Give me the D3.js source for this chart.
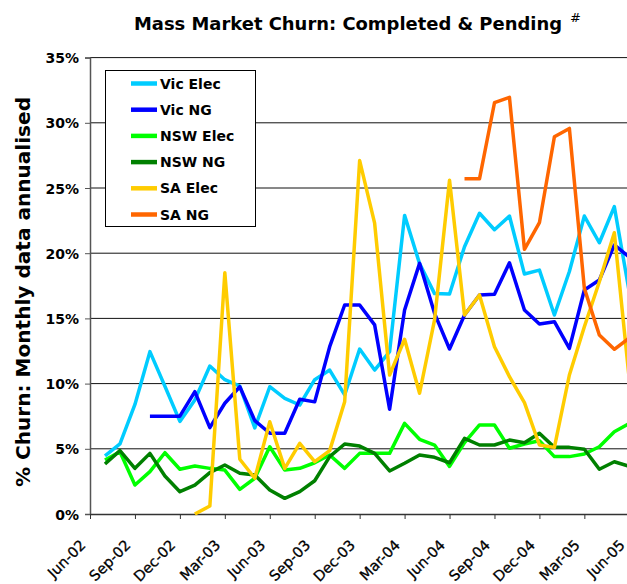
<!DOCTYPE html>
<html>
<head>
<meta charset="utf-8">
<script src="https://cdn.jsdelivr.net/npm/d3@7"></script>
<style>
  body { margin: 0; background: #fff; }
  text { font-family: "DejaVu Sans", Verdana, sans-serif; }
</style>
</head>
<body>
<div id="graph"></div>
<script>
var months = ["Jun-02","Jul-02","Aug-02","Sep-02","Oct-02","Nov-02","Dec-02","Jan-03","Feb-03","Mar-03",
              "Apr-03","May-03","Jun-03","Jul-03","Aug-03","Sep-03","Oct-03","Nov-03","Dec-03","Jan-04",
              "Feb-04","Mar-04","Apr-04","May-04","Jun-04","Jul-04","Aug-04","Sep-04","Oct-04","Nov-04",
              "Dec-04","Jan-05","Feb-05","Mar-05","Apr-05","May-05","Jun-05"];
var tickLabels = ["Jun-02","Sep-02","Dec-02","Mar-03","Jun-03","Sep-03","Dec-03","Mar-04","Jun-04","Sep-04","Dec-04","Mar-05","Jun-05"];
var yTicks = [0, 5, 10, 15, 20, 25, 30, 35];

var seriesNames = ["Vic Elec", "Vic NG", "NSW Elec", "NSW NG", "SA Elec", "SA NG"];
var seriesColors = ["#00ccff", "#0000ff", "#00ff00", "#008000", "#ffcc00", "#ff6600"];

var vicElec = [null,4.45,5.37,8.4,12.45,9.8,7.1,8.75,11.35,10.3,9.8,6.6,9.76,8.87,8.36,10.3,11.04,9.13,12.65,11.04,
               12.45,22.9,19.2,16.9,16.87,20.5,23.06,21.8,22.85,18.4,18.7,15.26,18.6,22.85,20.8,23.57,17.0];
var vicNG = [null,null,null,null,7.5,7.5,7.5,9.38,6.62,8.49,9.76,7.16,6.19,6.19,8.8,8.6,12.83,16.03,16.03,14.5,
             8.03,15.64,19.22,15.39,12.65,15.26,16.8,16.85,19.27,15.64,14.57,14.75,12.7,17.18,17.94,20.63,19.7];
var nswElec = [null,4.14,4.78,2.22,3.25,4.7,3.43,3.68,3.5,3.37,1.89,2.74,5.16,3.37,3.5,3.93,4.52,3.5,4.65,4.65,
               4.65,6.95,5.73,5.29,3.65,5.47,6.83,6.83,5.04,5.37,5.62,4.4,4.4,4.6,5.16,6.31,6.95];
var nswNG = [null,3.83,4.86,3.5,4.65,2.91,1.71,2.22,3.17,3.76,3.12,2.99,1.84,1.2,1.71,2.55,4.4,5.37,5.21,4.65,
             3.3,3.89,4.52,4.35,3.93,5.8,5.29,5.29,5.67,5.47,6.19,5.11,5.11,4.96,3.43,4.01,3.65];
var saElec = [null,null,null,null,null,null,null,0,0.61,18.5,4.2,2.74,7.08,3.5,5.42,4.01,4.86,8.61,27.1,22.3,
              10.66,13.4,9.26,14.88,25.6,15.26,16.8,12.83,10.53,8.54,5.29,5.11,10.66,14.36,17.81,21.57,10.3];
var saNG = [null,null,null,null,null,null,null,null,null,null,null,null,null,null,null,null,null,null,null,null,
            null,null,null,null,null,25.7,25.7,31.54,31.95,20.3,22.34,28.93,29.57,17.3,13.73,12.63,13.5];

var seriesValues = [vicElec, vicNG, nswElec, nswNG, saElec, saNG];

var W = 627, H = 584;
var svg = d3.select("#graph").append("svg")
            .attr("width", W)
            .attr("height", H);

var x = d3.scalePoint()
          .domain(months)
          .range([90, 629.3]);

var y = d3.scaleLinear()
          .domain([0, 35])
          .range([514, 57.6]);

// gridlines
svg.append("g")
   .selectAll("line")
   .data(yTicks.slice(1))
   .enter()
   .append("line")
   .attr("x1", 90).attr("x2", W)
   .attr("y1", function(d) { return y(d); })
   .attr("y2", function(d) { return y(d); })
   .attr("stroke", "#111")
   .attr("stroke-width", 1);

// y axis
var yAxis = svg.append("g")
    .attr("transform", "translate(90,0)")
    .call(d3.axisLeft(y).tickValues(yTicks).tickSize(5).tickFormat(function(d) { return d + "%"; }));
yAxis.select(".domain").attr("stroke", "#555").attr("stroke-width", 1.5);
yAxis.selectAll(".tick line").attr("stroke", "#555");
yAxis.selectAll("text")
     .attr("x", -11)
     .attr("dy", "0.36em")
     .style("font-size", "14px")
     .style("font-weight", "bold")
     .attr("fill", "#000");

// x axis
var xAxis = svg.append("g")
    .attr("transform", "translate(0,514)")
    .call(d3.axisBottom(x).tickValues(tickLabels).tickSize(5).tickSizeOuter(0));
xAxis.select(".domain").attr("stroke", "#333").attr("stroke-width", 1.5);
xAxis.selectAll(".tick line").attr("stroke", "#333");
xAxis.selectAll("text")
     .attr("y", 0).attr("dy", 0)
     .attr("transform", "translate(-4,32) rotate(-45)")
     .style("text-anchor", "end")
     .style("font-size", "14.5px")
     .attr("stroke", "#000")
     .attr("stroke-width", 0.3)
     .attr("fill", "#000");

// series lines
var line = d3.line()
    .defined(function(d) { return d != null; })
    .x(function(d, i) { return x(months[i]); })
    .y(function(d) { return y(d); });

svg.append("g")
   .selectAll("path")
   .data(seriesValues)
   .enter()
   .append("path")
   .attr("d", line)
   .attr("fill", "none")
   .attr("stroke", function(d, i) { return seriesColors[i]; })
   .attr("stroke-width", 3.5)
   .attr("stroke-linejoin", "round");

// legend
var legend = svg.append("g");
legend.append("rect")
      .attr("x", 105.5).attr("y", 70.5)
      .attr("width", 150).attr("height", 156)
      .attr("fill", "#fff")
      .attr("stroke", "#000")
      .attr("stroke-width", 1);
var items = legend.selectAll("g.item")
      .data(seriesNames)
      .enter()
      .append("g")
      .attr("class", "item")
      .attr("transform", function(d, i) { return "translate(0," + (83.5 + i * 26.2) + ")"; });
items.append("line")
     .attr("x1", 131).attr("x2", 157)
     .attr("stroke", function(d, i) { return seriesColors[i]; })
     .attr("stroke-width", 4.5);
items.append("text")
     .attr("x", 160)
     .attr("dy", "0.36em")
     .style("font-size", "14px")
     .style("font-weight", "bold")
     .text(function(d) { return d; });

// titles
svg.append("text")
   .attr("x", 134).attr("y", 30)
   .attr("textLength", 428)
   .attr("lengthAdjust", "spacingAndGlyphs")
   .style("font-size", "18px")
   .style("font-weight", "bold")
   .text("Mass Market Churn: Completed & Pending");
svg.append("text")
   .attr("x", 570).attr("y", 22)
   .style("font-size", "13px")
   .text("#");

svg.append("text")
   .attr("transform", "translate(30,292) rotate(-90)")
   .attr("text-anchor", "middle")
   .attr("textLength", 390)
   .attr("lengthAdjust", "spacingAndGlyphs")
   .style("font-size", "19px")
   .style("font-weight", "bold")
   .text("% Churn: Monthly data annualised");
</script>
</body>
</html>
